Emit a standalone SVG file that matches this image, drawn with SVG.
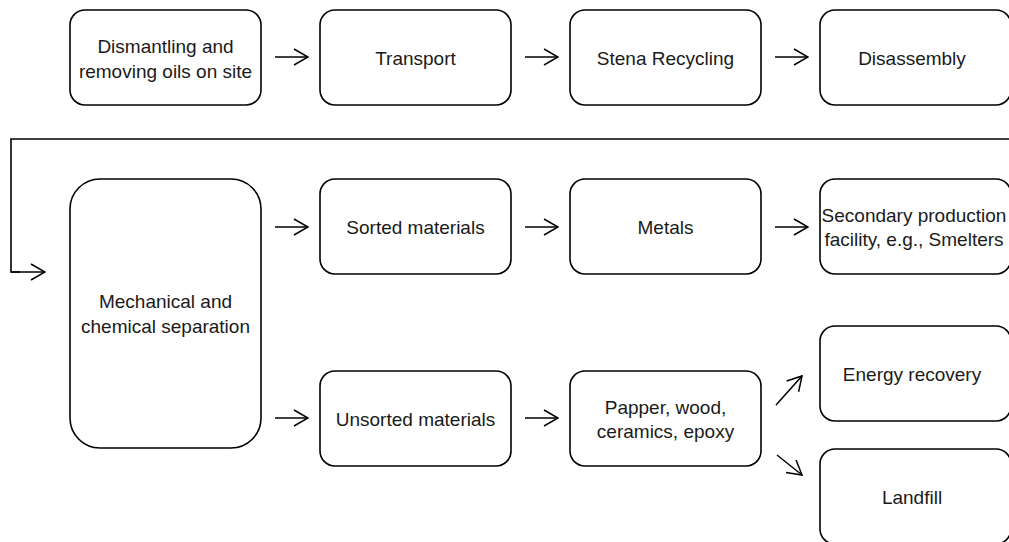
<svg xmlns="http://www.w3.org/2000/svg" width="1009" height="542" viewBox="0 0 1009 542">
  <defs>
    <marker id="open" viewBox="0 0 16 18" refX="15" refY="9" markerWidth="16" markerHeight="18" markerUnits="userSpaceOnUse" orient="auto">
      <path d="M1,1 L15,9 L1,17" fill="none" stroke="#000" stroke-width="1.5"/>
    </marker>
    <style>
      .box { fill: #fff; stroke: #000; stroke-width: 1.6; }
      .lbl { font-family: "Liberation Sans", Arial, sans-serif; font-size: 19px; fill: #1a1a1a; text-anchor: middle; dominant-baseline: central; }
      .edge { fill: none; stroke: #000; stroke-width: 1.5; marker-end: url(#open); }
      .plain { fill: none; stroke: #000; stroke-width: 1.6; }
    </style>
  </defs>
  <rect width="1009" height="542" fill="#fff"/>

  <g id="dismantling">
    <rect class="box" x="70" y="10" width="191" height="95" rx="15"/>
    <text class="lbl" x="165.5" y="46">Dismantling and</text>
    <text class="lbl" x="165.5" y="71">removing oils on site</text>
  </g>
  <g id="transport">
    <rect class="box" x="320" y="10" width="191" height="95" rx="15"/>
    <text class="lbl" x="415.5" y="58">Transport</text>
  </g>
  <g id="stena">
    <rect class="box" x="570" y="10" width="191" height="95" rx="15"/>
    <text class="lbl" x="665.5" y="58">Stena Recycling</text>
  </g>
  <g id="disassembly">
    <rect class="box" x="820" y="10" width="191" height="95" rx="15"/>
    <text class="lbl" x="912" y="58">Disassembly</text>
  </g>

  <g id="separation">
    <rect class="box" x="70" y="179" width="191" height="269" rx="30"/>
    <text class="lbl" x="165.5" y="301">Mechanical and</text>
    <text class="lbl" x="165.5" y="326">chemical separation</text>
  </g>
  <g id="sorted">
    <rect class="box" x="320" y="179" width="191" height="95" rx="15"/>
    <text class="lbl" x="415.5" y="227">Sorted materials</text>
  </g>
  <g id="metals">
    <rect class="box" x="570" y="179" width="191" height="95" rx="15"/>
    <text class="lbl" x="665.5" y="227">Metals</text>
  </g>
  <g id="secondary">
    <rect class="box" x="820" y="179" width="191" height="95" rx="15"/>
    <text class="lbl" x="914" y="215">Secondary production</text>
    <text class="lbl" x="914" y="239">facility, e.g., Smelters</text>
  </g>
  <g id="unsorted">
    <rect class="box" x="320" y="371" width="191" height="95" rx="15"/>
    <text class="lbl" x="415.5" y="419">Unsorted materials</text>
  </g>
  <g id="papper">
    <rect class="box" x="570" y="371" width="191" height="95" rx="15"/>
    <text class="lbl" x="665.5" y="407">Papper, wood,</text>
    <text class="lbl" x="665.5" y="431">ceramics, epoxy</text>
  </g>
  <g id="energy">
    <rect class="box" x="820" y="326" width="191" height="95" rx="15"/>
    <text class="lbl" x="912" y="374">Energy recovery</text>
  </g>
  <g id="landfill">
    <rect class="box" x="820" y="449" width="191" height="95" rx="15"/>
    <text class="lbl" x="912" y="497">Landfill</text>
  </g>

  <g id="connectors">
    <line class="edge" x1="275" y1="57" x2="308" y2="57"/>
    <line class="edge" x1="525" y1="57" x2="558" y2="57"/>
    <line class="edge" x1="775" y1="57" x2="808" y2="57"/>
    <polyline class="plain" points="1009,139 11,139 11,272 20,272"/>
    <line class="edge" x1="11" y1="272" x2="45" y2="272"/>
    <line class="edge" x1="275" y1="227" x2="308" y2="227"/>
    <line class="edge" x1="525" y1="227" x2="558" y2="227"/>
    <line class="edge" x1="775" y1="227" x2="808" y2="227"/>
    <line class="edge" x1="275" y1="418" x2="308" y2="418"/>
    <line class="edge" x1="525" y1="418" x2="558" y2="418"/>
    <line class="edge" x1="776" y1="405" x2="802" y2="376"/>
    <line class="edge" x1="777" y1="455" x2="802" y2="475"/>
  </g>
</svg>
